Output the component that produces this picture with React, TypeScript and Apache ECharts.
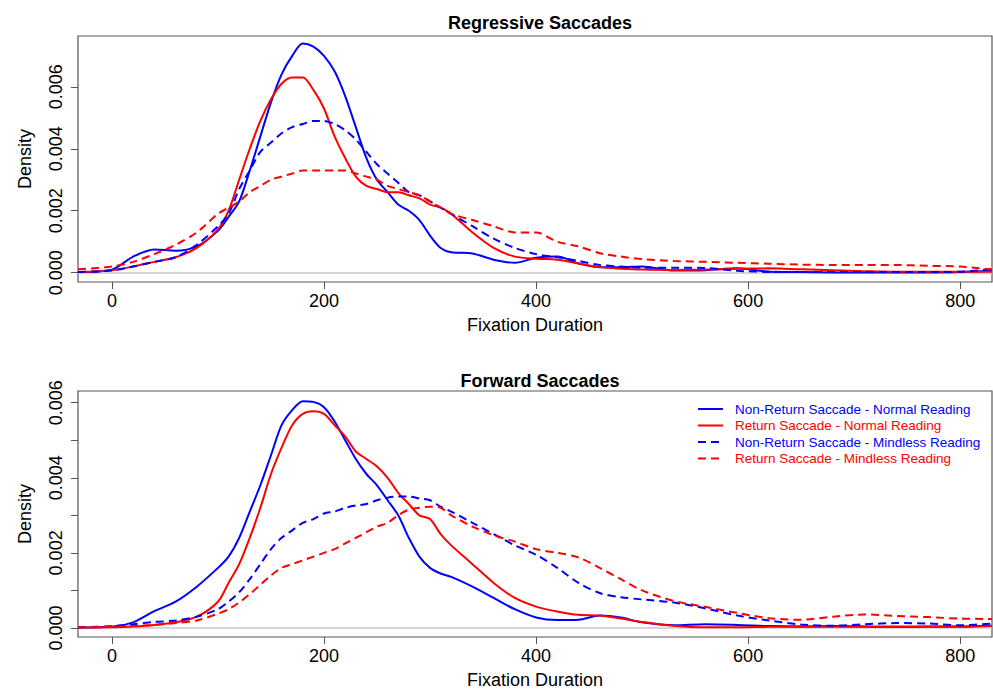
import React, { useEffect, useRef } from "react";
import * as echarts from "echarts";

const xs = [-32, 0, 20, 40, 60, 80, 100, 110, 120, 130, 140, 150, 160, 170, 180, 190, 200, 210, 220, 230, 240, 250, 260, 270, 280, 290, 300, 310, 320, 340, 360, 380, 400, 420, 440, 460, 480, 500, 530, 560, 590, 620, 650, 680, 710, 740, 770, 800, 830];

// Regressive Saccades
const regNonReturnNormal = [0.00002, 0.0001, 0.00052, 0.00075, 0.00071, 0.00085, 0.00135, 0.0018, 0.0023, 0.0033, 0.0044, 0.0055, 0.0064, 0.007, 0.0074, 0.0073, 0.007, 0.0065, 0.0057, 0.0047, 0.0037, 0.003, 0.0026, 0.0022, 0.002, 0.0017, 0.0012, 0.0008, 0.00066, 0.00062, 0.00042, 0.00032, 0.00048, 0.00052, 0.0003, 0.00018, 0.00018, 0.0002, 0.00007, 0.00008, 0.00014, 0.00003, 0.00002, 0.00001, 0.00001, 0.00001, 0.00001, 0.00002, 0.00006];
const regReturnNormal = [0.00002, 0.00008, 0.0002, 0.00035, 0.0005, 0.0008, 0.0014, 0.002, 0.003, 0.004, 0.0049, 0.0056, 0.0061, 0.0063, 0.0063, 0.0059, 0.0053, 0.0044, 0.0037, 0.0031, 0.0028, 0.0027, 0.0026, 0.0026, 0.0025, 0.0024, 0.0022, 0.0021, 0.0019, 0.0013, 0.0008, 0.00052, 0.00045, 0.00042, 0.0003, 0.00018, 0.00013, 0.0001, 0.00009, 0.0001, 0.00013, 0.00014, 0.00011, 0.00008, 0.00005, 0.00003, 0.00003, 0.00003, 0.00003];
const regNonReturnMindless = [0.00002, 0.00007, 0.0002, 0.00035, 0.0005, 0.0009, 0.0015, 0.0019, 0.0027, 0.0033, 0.0039, 0.0042, 0.0045, 0.0047, 0.0048, 0.0049, 0.0049, 0.0048, 0.0046, 0.0043, 0.0039, 0.0035, 0.0032, 0.0029, 0.0026, 0.0025, 0.0023, 0.0021, 0.0019, 0.0015, 0.0011, 0.0008, 0.0006, 0.0005, 0.00038, 0.00025, 0.0002, 0.00016, 0.00016, 0.00015, 0.00006, 0.00003, 0.00002, 0.00002, 0.00002, 0.00002, 0.00002, 0.00003, 0.00012];
const regReturnMindless = [0.00011, 0.0002, 0.00035, 0.0006, 0.0009, 0.0013, 0.0019, 0.0021, 0.0023, 0.0026, 0.0028, 0.003, 0.0031, 0.0032, 0.0033, 0.0033, 0.0033, 0.0033, 0.0033, 0.0032, 0.0031, 0.003, 0.0028, 0.0027, 0.0026, 0.0025, 0.0023, 0.0021, 0.0019, 0.0017, 0.0015, 0.0013, 0.0013, 0.001, 0.00085, 0.00063, 0.00052, 0.00044, 0.00038, 0.00035, 0.00032, 0.00029, 0.00026, 0.00025, 0.00025, 0.00025, 0.00022, 0.0002, 0.0001];

// Forward Saccades
const fwdNonReturnNormal = [0.00001, 0.00003, 0.00015, 0.00045, 0.0007, 0.0011, 0.0016, 0.0019, 0.0024, 0.0031, 0.0038, 0.0046, 0.0054, 0.0058, 0.00604, 0.00602, 0.00588, 0.0055, 0.005, 0.0045, 0.0041, 0.0038, 0.0034, 0.003, 0.0024, 0.0019, 0.0016, 0.00145, 0.00136, 0.0011, 0.0008, 0.0005, 0.00028, 0.00021, 0.00022, 0.00033, 0.00028, 0.00015, 0.00007, 0.0001, 0.00008, 0.00005, 0.00004, 0.00005, 0.00004, 0.00003, 0.00004, 0.00004, 0.00006];
const fwdReturnNormal = [0.00001, 0.00002, 0.00004, 0.00008, 0.00015, 0.0003, 0.0007, 0.0012, 0.0017, 0.0024, 0.0032, 0.0041, 0.0048, 0.0054, 0.0057, 0.00577, 0.0057, 0.0054, 0.0051, 0.0047, 0.0045, 0.0043, 0.004, 0.0036, 0.0033, 0.003, 0.0029, 0.0025, 0.0022, 0.0017, 0.0012, 0.0008, 0.00057, 0.00044, 0.00035, 0.00033, 0.00025, 0.00016, 0.00006, 0.00002, 0.00002, 0.00003, 0.00003, 0.00003, 0.00003, 0.00003, 0.00003, 0.00003, 0.00005];
const fwdNonReturnMindless = [0.00002, 0.00005, 0.0001, 0.00016, 0.0002, 0.0003, 0.0005, 0.0007, 0.00095, 0.0013, 0.0017, 0.0021, 0.0024, 0.0026, 0.0028, 0.0029, 0.00305, 0.0031, 0.0032, 0.00326, 0.0033, 0.0034, 0.00347, 0.0035, 0.0035, 0.00345, 0.0034, 0.00323, 0.0031, 0.0028, 0.0025, 0.0022, 0.00195, 0.0016, 0.0012, 0.00093, 0.00082, 0.00076, 0.00068, 0.00052, 0.00033, 0.0002, 0.00009, 0.00006, 0.0001, 0.00013, 0.00012, 0.00007, 0.00012];
const fwdReturnMindless = [0.00002, 0.00003, 0.00005, 0.00008, 0.00013, 0.0002, 0.00038, 0.0005, 0.00068, 0.0009, 0.00115, 0.0014, 0.0016, 0.0017, 0.0018, 0.0019, 0.002, 0.0021, 0.00225, 0.0024, 0.00255, 0.0027, 0.0028, 0.003, 0.00315, 0.0032, 0.00323, 0.0032, 0.003, 0.0027, 0.00247, 0.0023, 0.0021, 0.002, 0.00188, 0.0016, 0.0013, 0.001, 0.00072, 0.00056, 0.0004, 0.00026, 0.00022, 0.0003, 0.00036, 0.00032, 0.00029, 0.00025, 0.00024];

const seriesNames = [
  "Non-Return Saccade - Normal Reading",
  "Return Saccade - Normal Reading",
  "Non-Return Saccade - Mindless Reading",
  "Return Saccade - Mindless Reading",
];
const seriesColors = ["#0000ff", "#ff0000", "#0000ff", "#ff0000"];
const seriesDashed = [false, false, true, true];

const xTicks = [0, 200, 400, 600, 800];
const yTicksTop = [0, 0.002, 0.004, 0.006];
const yTicksBottom = [0, 0.001, 0.002, 0.003, 0.004, 0.005, 0.006];
const yLabelsBottom = [0, 0.002, 0.004, 0.006];

const FONT = "Arial, 'Liberation Sans', Helvetica, sans-serif";
const DASH = [8, 5];

export default function App() {
  const ref = useRef<HTMLDivElement>(null);
  useEffect(() => {
    document.body.style.margin = "0";
    if (!ref.current) return;
    const chart = echarts.init(ref.current, undefined, { renderer: "svg" });
    const pair = (ys: number[]) => xs.map((x, i) => [x, ys[i]]);
    const panels = [
      [regNonReturnNormal, regReturnNormal, regNonReturnMindless, regReturnMindless],
      [fwdNonReturnNormal, fwdReturnNormal, fwdNonReturnMindless, fwdReturnMindless],
    ];
    const series: any[] = [];
    panels.forEach((arrs, p) => {
      arrs.forEach((ys, k) => {
        series.push({
          type: "line",
          name: seriesNames[k],
          xAxisIndex: p,
          yAxisIndex: p,
          data: pair(ys),
          smooth: 0.3,
          symbol: "none",
          showSymbol: false,
          lineStyle: {
            color: seriesColors[k],
            width: 2,
            type: seriesDashed[k] ? DASH : "solid",
          },
          itemStyle: { color: seriesColors[k] },
          z: 3,
          markLine:
            k === 0
              ? {
                  silent: true,
                  symbol: ["none", "none"],
                  label: { show: false },
                  lineStyle: { color: "#c8c8c8", type: "solid", width: 1.5 },
                  data: [{ yAxis: 0 }],
                  z: 1,
                }
              : undefined,
        });
      });
    });

    const xAxisBase = (idx: number) => ({
      type: "value",
      gridIndex: idx,
      position: "bottom",
      min: -32,
      max: 830,
      name: "Fixation Duration",
      nameLocation: "middle",
      nameGap: 34,
      nameTextStyle: { fontSize: 18, color: "#000", fontFamily: FONT },
      axisLine: { show: false, onZero: false },
      splitLine: { show: false },
      axisTick: {
        show: true,
        length: 7,
        lineStyle: { color: "#555", width: 1 },
        customValues: xTicks,
      },
      axisLabel: {
        show: true,
        margin: 10,
        fontSize: 18,
        color: "#000",
        fontFamily: FONT,
        customValues: xTicks,
      },
    });

    const yAxisBase = (idx: number, min: number, max: number, ticks: number[], labels: number[]) => ({
      type: "value",
      gridIndex: idx,
      position: "left",
      min,
      max,
      name: "Density",
      nameLocation: "middle",
      nameGap: 44,
      nameTextStyle: { fontSize: 18, color: "#000", fontFamily: FONT },
      axisLine: { show: false, onZero: false },
      splitLine: { show: false },
      axisTick: {
        show: true,
        length: 7,
        lineStyle: { color: "#555", width: 1 },
        customValues: ticks,
      },
      axisLabel: {
        show: true,
        rotate: 90,
        margin: 13,
        fontSize: 18,
        color: "#000",
        fontFamily: FONT,
        customValues: labels,
        formatter: (v: number) => v.toFixed(3),
      },
    });

    const legendRowsY = [409, 425.5, 442, 458.5];
    const legendGraphics: any[] = [];
    seriesNames.forEach((n, k) => {
      legendGraphics.push({
        type: "line",
        shape: { x1: 698, y1: legendRowsY[k], x2: 723, y2: legendRowsY[k] },
        style: {
          stroke: seriesColors[k],
          lineWidth: 2,
          lineDash: seriesDashed[k] ? DASH : null,
        },
        silent: true,
      });
      legendGraphics.push({
        type: "text",
        x: 735,
        y: legendRowsY[k],
        style: {
          text: n,
          fill: seriesColors[k],
          font: `13.5px ${FONT}`,
          textVerticalAlign: "middle",
          verticalAlign: "middle",
        },
        silent: true,
      });
    });

    chart.setOption({
      animation: false,
      backgroundColor: "#fff",
      title: [
        {
          text: "Regressive Saccades",
          left: 535,
          top: 9,
          textAlign: "center",
          textStyle: { fontSize: 18, fontWeight: "bold", color: "#000", fontFamily: FONT },
        },
        {
          text: "Forward Saccades",
          left: 535,
          top: 367,
          textAlign: "center",
          textStyle: { fontSize: 18, fontWeight: "bold", color: "#000", fontFamily: FONT },
        },
      ],
      grid: [
        { left: 78, top: 36, width: 914, height: 246, show: true, borderColor: "#555", borderWidth: 1.2, backgroundColor: "transparent" },
        { left: 78, top: 391, width: 914, height: 246, show: true, borderColor: "#555", borderWidth: 1.2, backgroundColor: "transparent" },
      ],
      xAxis: [xAxisBase(0), xAxisBase(1)],
      yAxis: [
        yAxisBase(0, -0.0003, 0.00764, yTicksTop, yTicksTop),
        yAxisBase(1, -0.00024, 0.00631, yTicksBottom, yLabelsBottom),
      ],
      graphic: legendGraphics,
      series,
    });
    return () => chart.dispose();
  }, []);
  return <div ref={ref} style={{ width: 993, height: 693 }} />;
}
